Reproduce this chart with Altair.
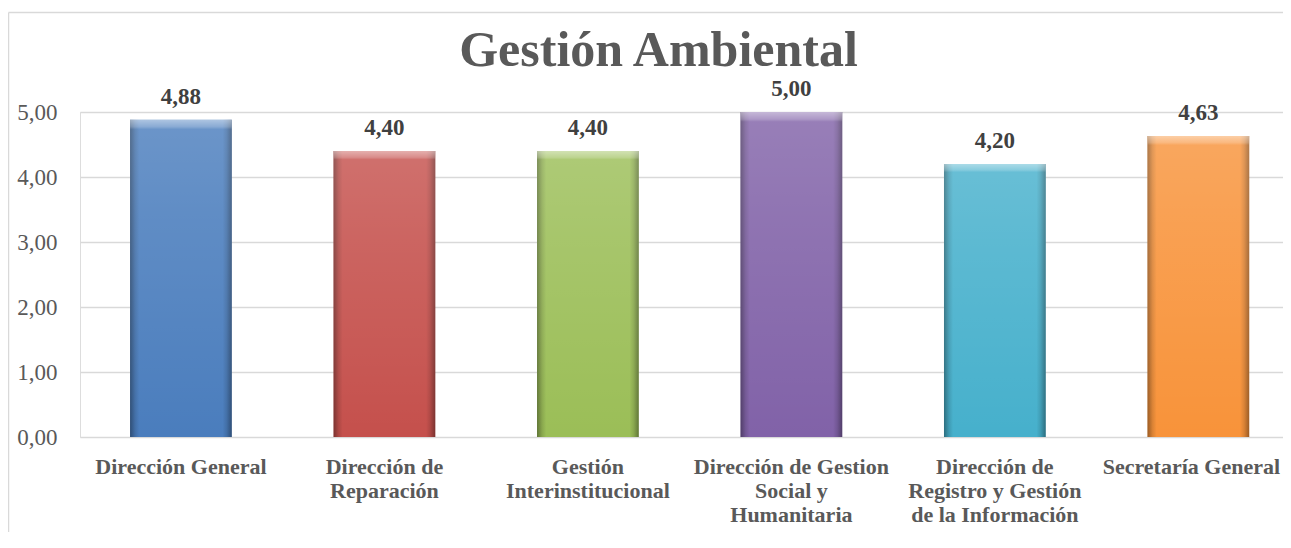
import altair as alt
import pandas as pd

categories = [
    "Dirección General",
    "Dirección de\nReparación",
    "Gestión\nInterinstitucional",
    "Dirección de Gestion\nSocial y\nHumanitaria",
    "Dirección de\nRegistro y Gestión\nde la Información",
    "Secretaría General",
]
values = [4.88, 4.40, 4.40, 5.00, 4.20, 4.63]
bar_colors = ["#4A7DBD", "#C5504C", "#9BBE57", "#8162A8", "#46B0CC", "#F8933A"]
y_ticks = [0, 1, 2, 3, 4, 5]
title_text = "Gestión Ambiental"

df = pd.DataFrame({"cat": categories, "v": values})

FONT = "Liberation Serif"
GRID = "#d9d9d9"
W, H = 1203, 325

x_enc = alt.X(
    "cat:N",
    sort=categories,
    scale=alt.Scale(paddingInner=0.5, paddingOuter=0.206, align=0.597),
    axis=alt.Axis(
        title=None, labelAngle=0, labelFont=FONT, labelFontSize=22,
        labelFontWeight="bold", labelColor="#595959", labelLineHeight=24,
        labelPadding=19, ticks=False, domain=False,
        labelExpr="split(datum.label, '\\n')", labelLimit=400,
        labelOffset={"condition": {"test": "datum.value == 'Secretaría General'", "value": -7}, "value": 0},
    ),
)
y_enc = alt.Y(
    "v:Q",
    scale=alt.Scale(domain=[0, 5], nice=False, zero=True),
    axis=alt.Axis(
        title=None, values=y_ticks, labelFont=FONT, labelFontSize=23,
        labelColor="#595959", labelPadding=23, ticks=False, domain=False,
        gridColor=GRID, gridWidth=1.3,
        labelExpr="replace(format(datum.value, '.2f'), '.', ',')",
    ),
)

base = alt.Chart(df)

bars = base.mark_bar().encode(
    x=x_enc,
    y=y_enc,
    color=alt.Color("cat:N", scale=alt.Scale(domain=categories, range=bar_colors), legend=None),
)

edge = base.mark_bar(
    color=alt.Gradient(
        gradient="linear", x1=0, x2=1, y1=0, y2=0,
        stops=[
            alt.GradientStop(color="rgba(0,0,0,0.38)", offset=0),
            alt.GradientStop(color="rgba(0,0,0,0.12)", offset=0.05),
            alt.GradientStop(color="rgba(0,0,0,0)", offset=0.09),
            alt.GradientStop(color="rgba(0,0,0,0)", offset=0.91),
            alt.GradientStop(color="rgba(0,0,0,0.12)", offset=0.95),
            alt.GradientStop(color="rgba(0,0,0,0.38)", offset=1),
        ],
    )
).encode(x=alt.X("cat:N", sort=categories), y="v:Q")

shine = base.mark_bar(
    color=alt.Gradient(
        gradient="linear", x1=0, x2=0, y1=0, y2=1,
        stops=[
            alt.GradientStop(color="rgba(255,255,255,0.55)", offset=0),
            alt.GradientStop(color="rgba(255,255,255,0.35)", offset=0.022),
            alt.GradientStop(color="rgba(255,255,255,0.18)", offset=0.03),
            alt.GradientStop(color="rgba(255,255,255,0.12)", offset=0.3),
            alt.GradientStop(color="rgba(255,255,255,0)", offset=1),
        ],
    )
).encode(x=alt.X("cat:N", sort=categories), y="v:Q")

labels = base.transform_calculate(
    lbl="replace(format(datum.v, '.2f'), '.', ',')"
).mark_text(
    font=FONT, fontSize=23, fontWeight="bold", color="#404040",
    baseline="alphabetic", dy=-16,
).encode(x=alt.X("cat:N", sort=categories), y="v:Q", text="lbl:N")

frame_data = alt.Data(values=[{"k": 1}])
frame_left = alt.Chart(frame_data).mark_rule(color=GRID, strokeWidth=1.5).encode(
    x=alt.value(-71.5), y=alt.value(-99.5), y2=alt.value(700)
)
frame_top = alt.Chart(frame_data).mark_rule(color=GRID, strokeWidth=1.5).encode(
    x=alt.value(-71.5), x2=alt.value(W + 50), y=alt.value(-99.5)
)

chart = alt.layer(frame_left, frame_top, bars, edge, shine, labels).properties(
    width=W,
    height=H,
    title=alt.TitleParams(
        text=title_text, font=FONT, fontSize=50, fontWeight="bold",
        color="#595959", anchor="middle", frame="group", offset=0,
        baseline="alphabetic", dx=-23, dy=104,
    ),
    autosize=alt.AutoSizeParams(type="none"),
    padding={"left": 72, "top": 104, "right": 0, "bottom": 95},
).configure_view(stroke=None).configure(background="white")

chart.save("out.html", embed_options={"renderer": "svg", "actions": False})
